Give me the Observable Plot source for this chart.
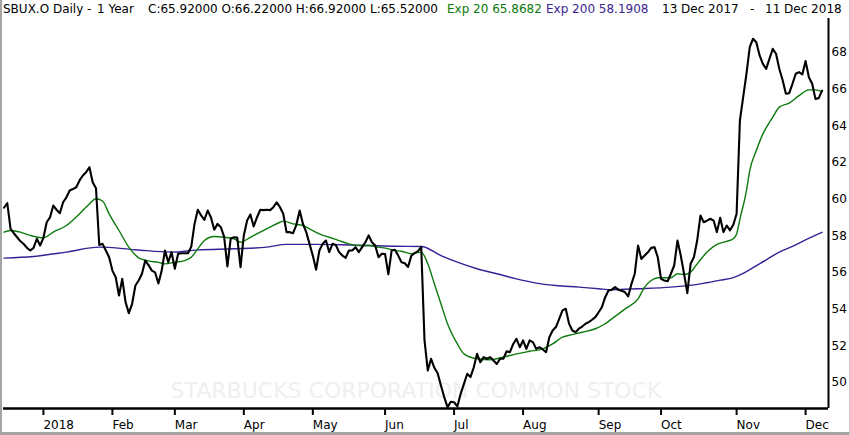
<!DOCTYPE html>
<html><head><meta charset="utf-8">
<script src="https://cdn.jsdelivr.net/npm/d3@7"></script>
<script src="https://cdn.jsdelivr.net/npm/@observablehq/plot@0.6"></script>
<style>
body{margin:0;background:#fff;}
#wrap{position:relative;width:850px;height:435px;overflow:hidden;background:#fff;font-family:"DejaVu Sans",sans-serif;}
#hdr{position:relative;height:18px;font-size:12px;line-height:18px;color:#000;white-space:pre;}
#hdr span{position:absolute;top:0;}
#chart svg{display:block;}
.bd{position:absolute;}
</style></head><body>
<div id="wrap">
  <div id="hdr"></div>
  <div id="chart"></div>
  <div class="bd" style="left:0;top:0;width:2px;height:435px;background:#a4a4a4"></div>
  <div class="bd" style="left:0;top:432px;width:850px;height:3px;background:#a4a4a4"></div>
  <div class="bd" style="left:849px;top:0;width:1px;height:435px;background:#c8c8c8"></div>
</div>
<script>
// ---- data ----
const closeVals = [
59.53,59.78,58.38,58.14,57.92,57.7,57.55,57.34,57.2,57.34,
57.84,57.47,57.89,58.74,59.0,59.65,59.42,59.23,59.83,60.1,
60.47,60.55,60.65,61.02,61.29,61.47,61.74,60.92,60.6,57.5,
57.56,57.2,56.83,56.1,55.74,54.74,55.65,54.38,53.78,54.29,
55.29,55.56,55.93,56.65,56.4,56.1,56.0,55.4,56.1,57.2,
56.56,57.11,56.2,57.02,57.05,57.05,57.05,57.4,58.65,59.42,
59.11,58.87,59.38,59.0,58.33,58.65,58.47,57.96,56.33,57.84,
57.92,57.9,56.29,58.02,58.83,59.16,58.51,59.0,59.42,59.4,
59.42,59.4,59.56,59.83,59.56,59.2,58.2,58.2,58.14,58.6,
59.38,58.65,58.2,57.56,56.92,56.15,57.2,57.56,57.74,57.11,
57.56,57.5,57.11,56.92,56.8,57.2,57.2,57.38,57.11,57.38,
57.65,58.02,57.65,57.47,56.83,57.02,57.0,55.9,57.2,57.24,
56.92,56.56,56.5,56.3,56.92,57.05,57.16,57.38,52.3,50.65,
51.29,50.8,50.5,49.83,49.2,48.65,48.95,48.92,48.69,49.38,
49.92,50.47,50.29,50.83,51.56,51.1,51.38,51.29,51.38,51.2,
51.01,51.29,51.29,51.7,51.65,52.1,52.38,51.92,52.29,51.83,
52.29,52.2,51.83,51.92,51.8,51.65,52.47,52.83,53.02,53.47,
53.93,54.02,53.2,52.83,52.74,52.93,53.05,53.2,53.29,53.42,
53.56,53.83,54.11,54.65,55.02,55.06,55.2,55.06,55.0,54.93,
54.69,55.38,55.93,57.47,56.74,56.92,57.1,57.34,57.38,56.83,
55.65,55.56,55.52,55.93,56.38,57.74,56.92,55.93,54.87,56.47,
56.83,57.74,59.11,58.74,58.83,58.93,58.83,58.2,58.98,58.2,
58.56,58.3,58.6,59.2,64.29,65.56,66.84,68.29,68.75,68.56,
67.84,67.38,67.11,67.66,68.2,67.93,67.1,66.5,65.75,65.78,
66.29,66.84,66.93,66.8,67.53,66.65,66.3,65.47,65.51,65.92
];
const ema20Day = [0,2,5,8,12,15,19,23,26,28,30,32,35,38,41,44,47,49,52,55,57,59,61,64,67,70,72,75,78,81,84,85,88,91,93,96,99,102,105,108,111,114,117,119,121,124,127,129,131,133,135,138,140,144,148,152,156,160,164,167,170,173,176,180,183,185,189,193,195,197,199,203,205,207,209,211,214,217,220,222,223,224,226,227,229,231,234,236,239,242,245,247,249];
const ema20Val = [58.2,58.29,58.2,58.02,57.89,58.2,58.56,59.2,59.74,60.02,59.9,59.2,58.29,57.38,56.8,56.63,56.55,56.47,56.56,56.65,56.83,57.29,57.74,57.96,57.92,57.84,57.65,57.92,58.2,58.47,58.74,58.8,58.65,58.56,58.38,58.11,57.92,57.74,57.56,57.47,57.47,57.38,57.29,57.2,57.16,57.02,57.11,56.47,55.38,54.29,53.2,52.1,51.56,51.29,51.24,51.38,51.56,51.7,51.83,52.1,52.47,52.61,52.74,52.93,53.2,53.47,54.0,54.56,55.2,55.56,55.71,55.71,55.93,55.89,56.02,56.47,57.11,57.53,57.7,57.84,58.1,58.9,60.47,61.56,62.65,63.56,64.47,65.02,65.24,65.65,65.96,65.96,65.87];
const ema200Day = [0,9,19,29,40,51,59,70,80,86,95,105,119,127,133,138,144,150,156,162,168,175,181,185,193,203,212,218,222,225,228,232,236,240,244,249];
const ema200Val = [56.78,56.87,57.11,57.38,57.24,57.11,57.23,57.29,57.38,57.53,57.53,57.5,57.43,57.42,56.92,56.56,56.2,55.93,55.65,55.42,55.29,55.2,55.11,55.06,55.11,55.2,55.38,55.58,55.72,55.95,56.26,56.69,57.11,57.42,57.78,58.19];
const monthTickDay = [12,33,52,73,94,116,137,158,181,200,223,244];
const monthTickLabel = ["2018","Feb","Mar","Apr","May","Jun","Jul","Aug","Sep","Oct","Nov","Dec"];
const yTicks = [50,52,54,56,58,60,62,64,66,68];
const headerTexts = ["SBUX.O Daily -","1 Year","C:65.92000 O:66.22000 H:66.92000 L:65.52000","Exp 20 65.8682","Exp 200 58.1908","13 Dec 2017","-","11 Dec 2018"];
const watermark = "STARBUCKS CORPORATION COMMON STOCK";

// ---- layout / styles ----
const headerLeft = [3,97,148,447,546,662,750,765];
const headerColor = ["#000","#000","#000","#0c7a0c","#3a2390","#000","#000","#000"];
const hdr = document.getElementById("hdr");
headerTexts.forEach((t,k)=>{
  const s=document.createElement("span");
  s.textContent=t; s.style.left=headerLeft[k]+"px"; s.style.color=headerColor[k];
  hdr.appendChild(s);
});

const closeData = closeVals.map((v,i)=>({i,v}));
const ema20 = ema20Day.map((d,k)=>({i:d,v:ema20Val[k]}));
const ema200 = ema200Day.map((d,k)=>({i:d,v:ema200Val[k]}));
const xDom = [-0.15, 250.97];
const yDom = [48.578, 69.855];

const chart = Plot.plot({
  width:850, height:417,
  marginLeft:3, marginRight:22, marginTop:0, marginBottom:27,
  style:{fontFamily:"DejaVu Sans", fontSize:"12px", background:"transparent", color:"#000", overflow:"visible"},
  x:{domain:xDom, axis:null},
  y:{domain:yDom, axis:null},
  marks:[
    Plot.text([watermark],{text:d=>d, frameAnchor:"bottom", dy:-18, lineAnchor:"middle", fill:"#efefef", fontSize:22}),
    Plot.line(ema200,{x:"i", y:"v", stroke:"#3a1f96", strokeWidth:1.4, curve:"monotone-x"}),
    Plot.line(ema20,{x:"i", y:"v", stroke:"#0c7a0c", strokeWidth:1.4, curve:"monotone-x"}),
    Plot.line(closeData,{x:"i", y:"v", stroke:"#000", strokeWidth:2.1, strokeLinejoin:"round"}),
    Plot.axisX({ticks:monthTickDay, tickFormat:d=>monthTickLabel[monthTickDay.indexOf(d)], tickSize:7, tickPadding:5, textAnchor:"start", strokeWidth:2, fontSize:12, label:null}),
    Plot.axisY({anchor:"right", ticks:yTicks, tickSize:0, tickPadding:3, fontSize:12, label:null}),
    Plot.ruleY([yDom[0]],{stroke:"#000", strokeWidth:2.6}),
    Plot.ruleX([xDom[1]],{stroke:"#000", strokeWidth:2})
  ]
});
document.getElementById("chart").appendChild(chart);
</script>
</body></html>
